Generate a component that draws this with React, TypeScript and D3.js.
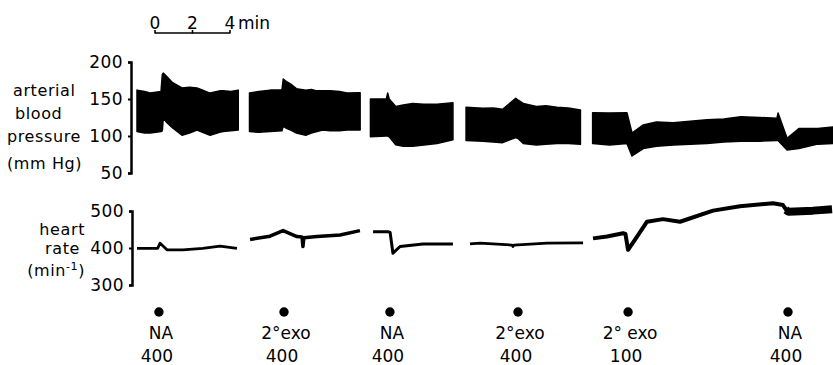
import React, { useEffect, useRef } from 'react';
import * as d3 from 'd3';

// time in minutes from start of first record, pressure in mmHg (top, bottom of the band)
const bpSeg1: [number, number, number][] = [
  [0.0, 162, 106], [0.4, 160, 104], [0.7, 158, 104], [1.0, 159, 105], [1.28, 160, 106],
  [1.35, 183, 107], [1.4, 185, 124], [1.6, 180, 118], [1.9, 172, 111], [2.4, 165, 101],
  [2.8, 166, 104], [3.2, 165, 108], [3.5, 162, 105], [3.9, 158, 101], [4.4, 161, 105],
  [4.6, 161, 106], [5.0, 160, 107], [5.4, 162, 108],
];
const bpSeg2: [number, number, number][] = [
  [6.0, 158, 106], [6.5, 160, 105], [7.1, 162, 106], [7.73, 162, 107], [7.8, 177, 113],
  [8.0, 173, 110], [8.2, 170, 108], [8.5, 164, 104], [9.0, 162, 101], [9.3, 163, 104],
  [9.6, 161, 106], [9.9, 161, 108], [10.3, 161, 107], [10.8, 160, 107], [11.2, 158, 108],
  [11.9, 158.5, 108],
];
const bpSeg3: [number, number, number][] = [
  [12.45, 150, 99], [13.3, 150, 100], [13.37, 158, 100], [13.45, 150, 99], [13.8, 140, 88],
  [14.2, 142, 86], [14.7, 144, 86], [15.3, 143, 88], [16.0, 143, 90], [16.85, 145, 95],
];
const bpSeg4: [number, number, number][] = [
  [17.55, 139, 94], [18.45, 137.5, 93], [19.0, 138, 92], [19.5, 136, 91], [20.2, 151, 98],
  [20.35, 148, 96], [20.6, 144, 90], [21.3, 140, 88], [21.8, 141, 89], [22.4, 139, 90],
  [23.0, 138, 90], [23.65, 135, 89],
];
const bpSeg5: [number, number, number][] = [
  [24.3, 131.5, 90], [25.2, 131, 88], [26.13, 131.5, 90], [26.4, 104, 73], [27.0, 115, 83],
  [27.7, 119, 86], [28.6, 118, 88], [29.5, 120, 89], [30.4, 122, 90], [31.3, 123, 92],
  [32.2, 126, 93], [33.2, 125, 93], [34.13, 124, 94], [34.19, 131, 94], [34.67, 97, 81],
  [35.3, 110, 83], [36.3, 110, 89], [37.12, 112, 90],
];

// heart rate, beats/min
const hrSeg1: [number, number][] = [
  [0.0, 399], [1.1, 399], [1.23, 413], [1.6, 395], [2.45, 395], [3.5, 399], [4.43, 405], [5.33, 399],
];
const hrSeg2: [number, number][] = [
  [6.03, 423], [7.09, 432], [7.79, 447], [8.53, 431], [8.8, 430], [8.85, 404], [8.9, 428],
  [9.6, 431], [10.83, 435], [11.89, 447],
];
const hrSeg3: [number, number][] = [
  [12.59, 444], [13.39, 444], [13.5, 442], [13.65, 386], [14.03, 404], [15.25, 411], [16.85, 411],
];
const hrSeg4: [number, number][] = [
  [17.76, 411], [18.29, 413], [20.0, 408], [20.05, 404], [20.1, 408], [21.87, 413], [23.79, 414],
];
const hrSeg5: [number, number][] = [
  [24.32, 426], [25.07, 431], [25.92, 440], [26.05, 438], [26.19, 395], [26.67, 431], [27.2, 471],
  [28.05, 478], [28.96, 471], [30.72, 501], [32.16, 513], [33.92, 521], [34.45, 516], [34.67, 500],
];
const hrSeg6: [number, number][] = [
  [34.6, 503], [34.75, 498], [36.05, 501], [37.07, 505],
];

const drugs = ['NA', '2°exo', 'NA', '2°exo', '2° exo', 'NA'];
const doses = ['400', '400', '400', '400', '100', '400'];
const drugTimes = [1.17, 7.84, 13.49, 20.32, 26.19, 34.72];

const bpTicks = [200, 150, 100, 50];
const hrTicks = [500, 400, 300];
const scaleBarTicks = [0, 2, 4];

const W = 833;
const H = 365;
const font = '"DejaVu Sans", sans-serif';

const App = () => {
  const svgRef = useRef<SVGSVGElement>(null);

  useEffect(() => {
    if (!svgRef.current) return;
    const svg = d3.select(svgRef.current);
    svg.selectAll('*').remove();

    const x = d3.scaleLinear().domain([0, 37.12]).range([137, 833]);
    const yBp = d3.scaleLinear().domain([50, 200]).range([173, 62]);
    const yHr = d3.scaleLinear().domain([300, 500]).range([285, 211]);

    // blood pressure bands
    const area = d3.area<[number, number, number]>()
      .x(d => x(d[0]))
      .y0(d => yBp(d[2]))
      .y1(d => yBp(d[1]));
    [bpSeg1, bpSeg2, bpSeg3, bpSeg4, bpSeg5].forEach(seg => {
      svg.append('path')
        .datum(seg)
        .attr('d', area)
        .attr('fill', '#000')
        .attr('stroke', '#000')
        .attr('stroke-width', 1.5)
        .attr('stroke-linejoin', 'round');
    });

    // heart rate traces
    const line = d3.line<[number, number]>()
      .x(d => x(d[0]))
      .y(d => yHr(d[1]));
    const hrSegs = [hrSeg1, hrSeg2, hrSeg3, hrSeg4, hrSeg5, hrSeg6];
    const widths = [2.8, 3.5, 3, 2.8, 4, 8];
    hrSegs.forEach((seg, i) => {
      svg.append('path')
        .datum(seg)
        .attr('d', line)
        .attr('fill', 'none')
        .attr('stroke', '#000')
        .attr('stroke-width', widths[i])
        .attr('stroke-linejoin', 'round');
    });

    // axes
    const bpAxis = svg.append('g')
      .attr('transform', 'translate(131,0)')
      .call(d3.axisLeft(yBp).tickValues(bpTicks).tickSize(3).tickPadding(5));
    const hrAxis = svg.append('g')
      .attr('transform', 'translate(132,0)')
      .call(d3.axisLeft(yHr).tickValues(hrTicks).tickSize(3).tickPadding(5));
    [bpAxis, hrAxis].forEach(g => {
      g.select('.domain').attr('stroke-width', 2.5);
      g.selectAll('line').attr('stroke-width', 2);
      g.selectAll('text')
        .attr('font-family', font)
        .attr('font-size', 17)
        .attr('letter-spacing', 0.4)
        .attr('fill', '#000');
    });

    // axis titles
    const titles: [string, number, number, string][] = [
      ['arterial', 13, 96, 'start'],
      ['blood', 15, 119, 'start'],
      ['pressure', 7, 142, 'start'],
      ['(mm Hg)', 7, 169, 'start'],
      ['heart', 85, 235, 'end'],
      ['rate', 80, 254, 'end'],
    ];
    titles.forEach(([s, tx, ty, anchor]) => {
      svg.append('text')
        .attr('x', tx).attr('y', ty)
        .attr('text-anchor', anchor)
        .attr('font-family', font).attr('font-size', 16).attr('letter-spacing', 0.6)
        .text(s);
    });
    const mn = svg.append('text')
      .attr('x', 85).attr('y', 276)
      .attr('text-anchor', 'end')
      .attr('font-family', font).attr('font-size', 16).attr('letter-spacing', 0.6);
    mn.append('tspan').text('(min');
    mn.append('tspan').attr('dy', -6).attr('font-size', 11).text('-1');
    mn.append('tspan').attr('dy', 6).text(')');

    // time scale bar
    const t0 = 0.96;
    const bar = svg.append('g');
    bar.append('line')
      .attr('x1', x(t0)).attr('x2', x(t0 + 4))
      .attr('y1', 33).attr('y2', 33)
      .attr('stroke', '#000').attr('stroke-width', 1.6);
    bar.selectAll('.tk')
      .data(scaleBarTicks)
      .enter().append('line')
      .attr('x1', d => x(t0 + d)).attr('x2', d => x(t0 + d))
      .attr('y1', 30).attr('y2', 33.5)
      .attr('stroke', '#000').attr('stroke-width', 1.6);
    bar.selectAll('.lb')
      .data(scaleBarTicks)
      .enter().append('text')
      .attr('x', d => x(t0 + d))
      .attr('y', 29)
      .attr('text-anchor', 'middle')
      .attr('font-family', font)
      .attr('font-size', 17)
      .text(d => d);
    bar.append('text')
      .attr('x', x(t0 + 4) + 8)
      .attr('y', 29)
      .attr('font-family', font)
      .attr('font-size', 17)
      .text('min');

    // drug markers
    const marks = svg.append('g');
    drugTimes.forEach((t, i) => {
      marks.append('circle')
        .attr('cx', x(t)).attr('cy', 312).attr('r', 4.7).attr('fill', '#000');
      marks.append('text')
        .attr('x', x(t) + 2).attr('y', 339)
        .attr('text-anchor', 'middle')
        .attr('font-family', font).attr('font-size', 17)
        .text(drugs[i]);
      marks.append('text')
        .attr('x', x(t) - 2).attr('y', 362)
        .attr('text-anchor', 'middle')
        .attr('font-family', font).attr('font-size', 17)
        .text(doses[i]);
    });
  }, []);

  return (
    <svg
      ref={svgRef}
      width={W}
      height={H}
      viewBox={`0 0 ${W} ${H}`}
      style={{ position: 'absolute', left: 0, top: 0, background: '#fff' }}
    />
  );
};

export default App;
